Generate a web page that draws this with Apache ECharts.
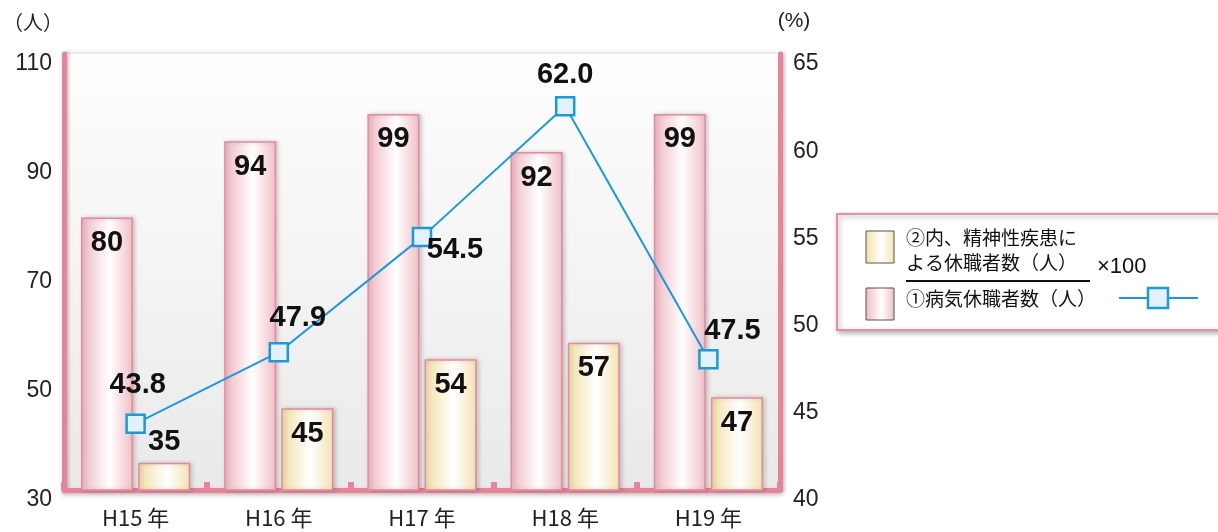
<!DOCTYPE html>
<html>
<head>
<meta charset="utf-8">
<script src="https://cdn.jsdelivr.net/npm/echarts@6/dist/echarts.min.js"></script>
<style>
  html, body { margin: 0; padding: 0; background: #ffffff; }
  #chart { width: 1218px; height: 532px; }
</style>
</head>
<body>
<div id="chart"></div>
<script>
// 年度
const years = ['H15 年', 'H16 年', 'H17 年', 'H18 年', 'H19 年'];
// ①病気休職者数（人）
const sickLeave = [80, 94, 99, 92, 99];
// ②内、精神性疾患による休職者数（人）
const mentalLeave = [35, 45, 54, 57, 47];
// ②÷①×100（%）
const mentalRatio = [43.8, 47.9, 54.5, 62.0, 47.5];
// 左軸の目盛ラベル
const leftTickLabels = [30, 50, 70, 90, 110];

const PINK = '#e8849a';
const BLUE = '#1a9ad6';
const NUM_FONT = '"Liberation Sans", Arial, "Noto Sans CJK JP", sans-serif';
const JP_FONT = '"Noto Sans CJK JP", "Liberation Sans", sans-serif';

// 折れ線ラベルの位置（マーカー中心からのずれ）
const ratioLabelOffsets = [[2, -39], [19, -34], [33, 13], [0, -31], [24, -28]];

function hGrad(edge, edge2) {
  return new echarts.graphic.LinearGradient(0, 0, 1, 0, [
    { offset: 0, color: edge },
    { offset: 0.55, color: '#ffffff' },
    { offset: 1, color: edge2 }
  ]);
}

const pinkFill = () => hGrad('#efb9c3', '#f0bfc8');
const yellowFill = () => hGrad('#f2dfa6', '#f3e3b2');

const labelBold = {
  fontFamily: NUM_FONT,
  fontWeight: 'bold',
  fontSize: 29,
  color: '#111'
};

// 軸目盛ラベルは目盛位置よりわずかに下へ
const axisLabelStyle = {
  fontFamily: NUM_FONT,
  fontSize: 23,
  color: '#222',
  verticalAlign: 'top',
  lineHeight: 20
};

const chart = echarts.init(document.getElementById('chart'), null, { renderer: 'canvas' });

chart.setOption({
  animation: false,
  backgroundColor: '#ffffff',
  grid: {
    left: 64, right: 438, top: 54, bottom: 42,
    show: true,
    borderWidth: 0,
    backgroundColor: new echarts.graphic.LinearGradient(0, 0, 0, 1, [
      { offset: 0, color: '#fefefe' },
      { offset: 1, color: '#e9e9e9' }
    ]),
    shadowColor: 'rgba(0,0,0,0.25)',
    shadowBlur: 5
  },
  xAxis: {
    type: 'category',
    data: years,
    axisLine: {
      onZero: false,
      lineStyle: { color: PINK, width: 5, shadowColor: 'rgba(0,0,0,0.25)', shadowBlur: 4, shadowOffsetY: 2 }
    },
    axisTick: { show: true, inside: true, length: 8, lineStyle: { color: PINK, width: 6 } },
    axisLabel: { margin: 17, fontFamily: JP_FONT, fontSize: 22, color: '#222' },
    splitLine: { show: false }
  },
  yAxis: [
    {
      type: 'value',
      min: 30, max: 110, interval: 10,
      name: '（人）',
      nameLocation: 'end',
      nameGap: 22,
      nameTextStyle: { fontFamily: JP_FONT, fontSize: 20, color: '#222', align: 'center', padding: [0, 62, 0, 0] },
      axisLine: { show: true, lineStyle: { color: PINK, width: 5, shadowColor: 'rgba(0,0,0,0.2)', shadowBlur: 3, shadowOffsetX: 2 } },
      axisTick: { show: false },
      axisLabel: Object.assign({
        margin: 12,
        formatter: v => (leftTickLabels.indexOf(v) >= 0 ? String(v) : '')
      }, axisLabelStyle),
      splitLine: { show: false }
    },
    {
      type: 'value',
      min: 40, max: 65, interval: 5,
      position: 'right',
      name: '(%)',
      nameLocation: 'end',
      nameGap: 22,
      nameTextStyle: { fontFamily: NUM_FONT, fontSize: 21, color: '#222', align: 'center', padding: [0, 0, 0, 28] },
      axisLine: { show: true, lineStyle: { color: PINK, width: 5, shadowColor: 'rgba(0,0,0,0.2)', shadowBlur: 3, shadowOffsetX: 2 } },
      axisTick: { show: false },
      axisLabel: Object.assign({ margin: 13 }, axisLabelStyle),
      splitLine: { show: false }
    }
  ],
  series: [
    {
      name: '①病気休職者数（人）',
      type: 'bar',
      yAxisIndex: 0,
      barWidth: 52,
      barGap: '10%',
      data: sickLeave,
      itemStyle: {
        color: pinkFill(),
        borderColor: '#e8899b',
        borderWidth: 1.5,
        shadowColor: 'rgba(0,0,0,0.18)',
        shadowBlur: 4,
        shadowOffsetX: 2
      },
      label: Object.assign({ show: true, position: 'insideTop', distance: 11 }, labelBold)
    },
    {
      name: '②内、精神性疾患による休職者数（人）',
      type: 'bar',
      yAxisIndex: 0,
      barWidth: 52,
      data: mentalLeave.map((v, i) => (i === 0
        ? { value: v, label: { position: 'top', distance: 6 } }
        : v)),
      itemStyle: {
        color: yellowFill(),
        borderColor: '#e8899b',
        borderWidth: 1.5,
        shadowColor: 'rgba(0,0,0,0.18)',
        shadowBlur: 4,
        shadowOffsetX: 2
      },
      label: Object.assign({ show: true, position: 'insideTop', distance: 11 }, labelBold)
    },
    {
      name: '②÷①×100',
      type: 'line',
      yAxisIndex: 1,
      z: 5,
      data: mentalRatio.map((v, i) => ({
        value: v,
        label: { offset: ratioLabelOffsets[i] }
      })),
      symbol: 'rect',
      symbolSize: 18,
      lineStyle: { color: BLUE, width: 2 },
      itemStyle: { color: '#e4f1fb', borderColor: BLUE, borderWidth: 2.5 },
      label: Object.assign({
        show: true,
        position: 'inside',
        formatter: p => p.value.toFixed(1)
      }, labelBold)
    }
  ],
  graphic: [
    {
      type: 'group',
      left: 836, top: 213,
      children: [
        {
          type: 'rect',
          shape: { x: 0, y: 0, width: 400, height: 116 },
          style: { fill: '#ffffff', stroke: '#e8909f', lineWidth: 2, shadowColor: 'rgba(0,0,0,0.3)', shadowBlur: 5, shadowOffsetX: 2, shadowOffsetY: 2 }
        },
        {
          type: 'rect',
          shape: { x: 29, y: 17, width: 28, height: 32 },
          style: { fill: yellowFill(), stroke: '#555', lineWidth: 1 }
        },
        {
          type: 'rect',
          shape: { x: 29, y: 74, width: 28, height: 32 },
          style: { fill: pinkFill(), stroke: '#555', lineWidth: 1 }
        },
        {
          type: 'text',
          x: 69, y: 24,
          style: { text: '②内、精神性疾患に', font: '19px ' + JP_FONT, fill: '#111', textVerticalAlign: 'middle' }
        },
        {
          type: 'text',
          x: 69, y: 49,
          style: { text: 'よる休職者数（人）', font: '19px ' + JP_FONT, fill: '#111', textVerticalAlign: 'middle' }
        },
        {
          type: 'line',
          shape: { x1: 69, y1: 67, x2: 253, y2: 67 },
          style: { stroke: '#111', lineWidth: 2 }
        },
        {
          type: 'text',
          x: 260, y: 53,
          style: { text: '×100', font: '22px ' + NUM_FONT, fill: '#111', textVerticalAlign: 'middle' }
        },
        {
          type: 'text',
          x: 69, y: 85,
          style: { text: '①病気休職者数（人）', font: '19px ' + JP_FONT, fill: '#111', textVerticalAlign: 'middle' }
        },
        {
          type: 'line',
          shape: { x1: 282, y1: 84, x2: 361, y2: 84 },
          style: { stroke: BLUE, lineWidth: 2 }
        },
        {
          type: 'rect',
          shape: { x: 311, y: 74, width: 20, height: 20 },
          style: { fill: '#e4f1fb', stroke: BLUE, lineWidth: 2.5 }
        }
      ]
    }
  ]
});
</script>
</body>
</html>
